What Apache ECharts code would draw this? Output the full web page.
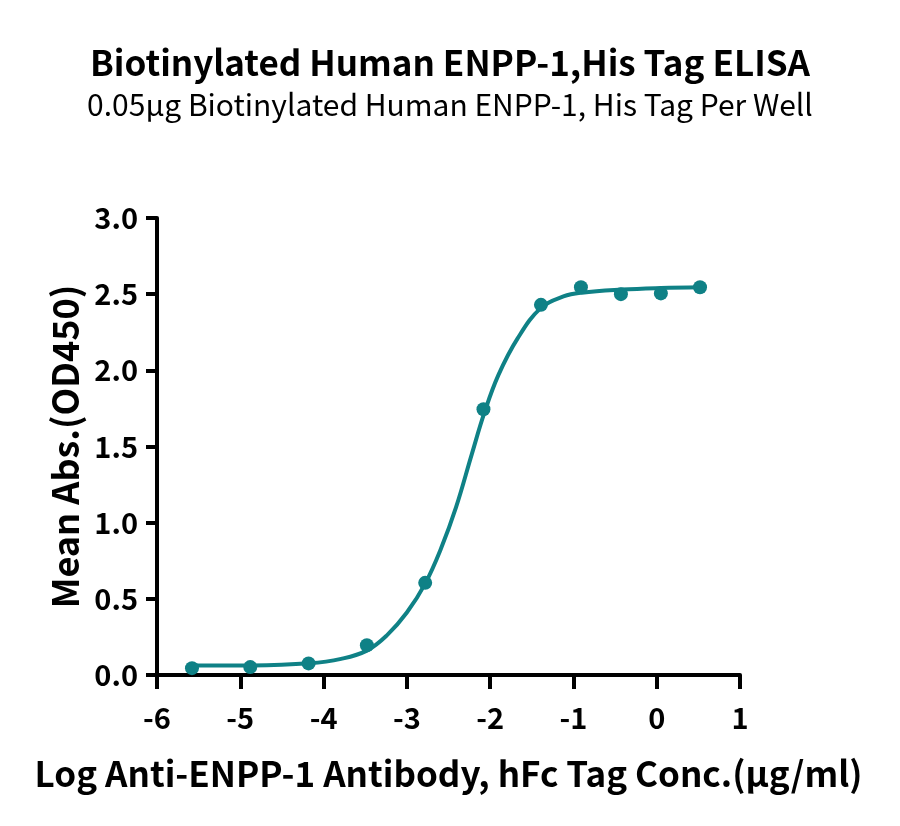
<!DOCTYPE html>
<html>
<head>
<meta charset="utf-8">
<script src="https://cdn.jsdelivr.net/npm/echarts@6/dist/echarts.min.js"></script>
<style>
  html, body { margin: 0; padding: 0; background: #fff; }
  #chart { width: 900px; height: 826px; }
</style>
</head>
<body>
<div id="chart"></div>
<script>
// measured points: log conc (x) vs mean OD450 (y)
var logConc = [-5.58, -4.88, -4.18, -3.48, -2.78, -2.08, -1.39, -0.91, -0.43, 0.05, 0.52];
var meanAbs = [0.045, 0.052, 0.076, 0.195, 0.605, 1.745, 2.43, 2.545, 2.50, 2.505, 2.545];

// fitted curve
var curveX = [-5.58, -4.87, -4.17, -3.79, -3.48, -3.24, -3.0, -2.78, -2.59, -2.41, -2.22, -2.07, -1.90, -1.67, -1.39, -1.12, -0.90, -0.42, 0.05, 0.52];
var curveY = [0.062, 0.063, 0.077, 0.106, 0.16, 0.26, 0.41, 0.60, 0.83, 1.10, 1.45, 1.72, 1.97, 2.21, 2.41, 2.485, 2.51, 2.53, 2.54, 2.545];

var xTicks = [-6, 1, 1];   // min, max, interval
var yTicks = [0, 3, 0.5];

var teal = '#0f8186';
var font = '"Noto Sans CJK SC", "Noto Sans", sans-serif';

var chart = echarts.init(document.getElementById('chart'));

var points = logConc.map(function (x, i) { return [x, meanAbs[i]]; });
var curve = curveX.map(function (x, i) { return [x, curveY[i]]; });

var option = {
  backgroundColor: '#fff',
  animation: false,
  title: [
    {
      text: 'Biotinylated Human ENPP-1,His Tag ELISA',
      left: 'center',
      top: 40,
      textStyle: { fontFamily: font, fontSize: 35, fontWeight: 'bold', color: '#000' }
    },
    {
      text: '0.05μg Biotinylated Human ENPP-1, His Tag Per Well',
      left: 'center',
      top: 85,
      textStyle: { fontFamily: font, fontSize: 30, fontWeight: 'normal', color: '#000' }
    }
  ],
  grid: { left: 157, right: 160, top: 218, bottom: 151 },
  xAxis: {
    type: 'value',
    min: xTicks[0],
    max: xTicks[1],
    interval: xTicks[2],
    name: 'Log Anti-ENPP-1 Antibody, hFc Tag Conc.(μg/ml)',
    nameLocation: 'middle',
    nameGap: 81,
    nameTextStyle: { fontFamily: font, fontSize: 35, fontWeight: 'bold', color: '#000' },
    splitLine: { show: false },
    axisLine: { onZero: false, lineStyle: { color: '#000', width: 4 } },
    axisTick: { inside: false, length: 14, lineStyle: { color: '#000', width: 4 } },
    axisLabel: { margin: 28, fontFamily: font, fontSize: 29, fontWeight: 'bold', color: '#000' }
  },
  yAxis: {
    type: 'value',
    min: yTicks[0],
    max: yTicks[1],
    interval: yTicks[2],
    name: 'Mean Abs.(OD450)',
    nameLocation: 'middle',
    nameGap: 74,
    nameTextStyle: { fontFamily: font, fontSize: 36, fontWeight: 'bold', color: '#000' },
    splitLine: { show: false },
    axisLine: { show: true, onZero: false, lineStyle: { color: '#000', width: 4 } },
    axisTick: { show: true, inside: false, length: 11, lineStyle: { color: '#000', width: 4 } },
    axisLabel: {
      margin: 19, fontFamily: font, fontSize: 29, fontWeight: 'bold', color: '#000',
      formatter: function (v) { return v.toFixed(1); }
    }
  },
  series: [
    {
      name: 'fit',
      type: 'line',
      data: curve,
      smooth: 0.4,
      showSymbol: false,
      lineStyle: { color: teal, width: 4 },
      z: 2
    },
    {
      name: 'data',
      type: 'scatter',
      data: points,
      symbol: 'circle',
      symbolSize: 14,
      itemStyle: { color: teal, opacity: 1 },
      z: 3
    }
  ]
};

chart.setOption(option);
</script>
</body>
</html>
